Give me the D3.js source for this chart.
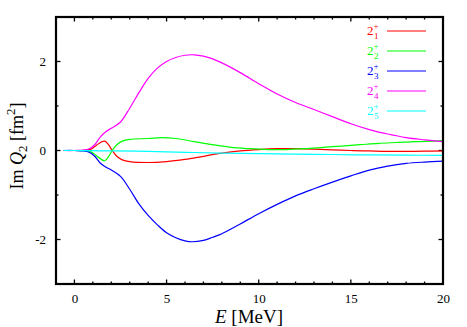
<!DOCTYPE html>
<html><head><meta charset="utf-8">
<script src="https://cdn.jsdelivr.net/npm/d3@7"></script>
<style>body{margin:0;background:#fff}svg{display:block}text{font-family:"Liberation Serif","Times New Roman",Times,serif !important}</style>
</head><body><svg id="c" width="467" height="327"></svg>
<script>
const xTicks = [0, 5, 10, 15, 20];
const yTicks = [-2, 0, 2];
const seriesNames = ["1", "2", "3", "4", "5"];
const seriesColors = ["#ff0000", "#00ff00", "#0000ff", "#ff00ff", "#00ffff"];
const red = [[-0.6,0],[0,0],[0.5,0.005],[0.9,0.03],[1.2,0.12],[1.5,0.2],[1.65,0.21],[1.85,0.13],[2.05,0],[2.3,-0.13],[2.6,-0.21],[3,-0.25],[4,-0.27],[5,-0.25],[6,-0.2],[7,-0.13],[8,-0.06],[9,-0.01],[10,0.02],[11,0.04],[12,0.04],[13,0.03],[14,0.015],[15,0],[16,-0.01],[17,-0.02],[18,-0.02],[19,-0.015],[20,-0.01]];
const green = [[-0.6,0],[0,0],[0.5,-0.005],[0.9,-0.03],[1.2,-0.12],[1.5,-0.21],[1.65,-0.23],[1.85,-0.14],[2.05,0],[2.3,0.13],[2.6,0.21],[3,0.25],[4,0.27],[4.7,0.29],[5.5,0.27],[6.5,0.2],[7.5,0.13],[8.5,0.07],[9.5,0.04],[10.5,0.02],[11.5,0.02],[12.5,0.04],[13.5,0.07],[14.5,0.1],[15.5,0.13],[16.5,0.16],[17.5,0.18],[18.5,0.2],[19.5,0.21],[20,0.22]];
const blue = [[-0.6,0],[0,0],[0.5,-0.01],[0.8,-0.04],[1.1,-0.13],[1.4,-0.28],[1.7,-0.37],[2,-0.44],[2.5,-0.58],[3,-0.87],[3.5,-1.2],[4,-1.46],[4.5,-1.67],[5,-1.85],[5.5,-1.96],[6,-2.03],[6.4,-2.05],[7,-2.02],[7.5,-1.95],[8,-1.87],[9,-1.65],[10,-1.42],[11,-1.21],[12,-1.02],[13,-0.86],[14,-0.71],[15,-0.57],[16,-0.44],[17,-0.35],[18,-0.29],[19,-0.26],[20,-0.24]];
const magenta = [[-0.6,0],[0,0],[0.5,0.01],[0.8,0.04],[1.1,0.13],[1.4,0.3],[1.7,0.42],[2,0.5],[2.5,0.64],[3,0.95],[3.5,1.3],[4,1.62],[4.5,1.85],[5,2.0],[5.5,2.09],[6,2.14],[6.5,2.15],[7,2.12],[7.5,2.06],[8,1.97],[9,1.75],[10,1.5],[11,1.27],[12,1.08],[13,0.92],[14,0.76],[15,0.6],[16,0.47],[17,0.37],[18,0.29],[19,0.24],[20,0.2]];
const cyan = [[-0.6,0],[0,0],[1,-0.005],[2,-0.01],[4,-0.02],[6,-0.04],[8,-0.06],[10,-0.07],[12,-0.08],[14,-0.09],[16,-0.1],[18,-0.105],[20,-0.11]];
const seriesData = [red, green, blue, magenta, cyan];

const FONT = '"Liberation Serif","Times New Roman",Times,serif';
const svg = d3.select("#c");
const L = 56, R = 443, T = 17, B = 284;
const x = d3.scaleLinear().domain([-1, 20]).range([L, R]);
const y = d3.scaleLinear().domain([-3, 3]).range([B, T]);

// minor + major ticks (inside, all four sides)
const g = svg.append("g");
const xMinor = d3.range(-1, 21, 1), yMinor = d3.range(-3, 4, 1);
function tick(x1,y1,x2,y2){g.append("line").attr("x1",x1).attr("y1",y1).attr("x2",x2).attr("y2",y2).attr("stroke","#000").attr("stroke-width",1.3);}
xMinor.forEach(v => { const len = xTicks.includes(v) ? 4.5 : 2.5; tick(x(v),B,x(v),B-len); tick(x(v),T,x(v),T+len); });
yMinor.forEach(v => { const len = yTicks.includes(v) ? 4.5 : 2.5; tick(L,y(v),L+len,y(v)); tick(R,y(v),R-len,y(v)); });

// tick labels via d3 axes (tick lines hidden)
const xa = svg.append("g").attr("transform",`translate(0,${B})`).call(d3.axisBottom(x).tickValues(xTicks).tickFormat(d=>String(d)).tickSize(0).tickPadding(10));
xa.select(".domain").remove();
xa.attr("font-family",FONT).attr("font-size",13);
xa.selectAll("text").attr("font-size",13);
const ya = svg.append("g").attr("transform",`translate(${L},0)`).call(d3.axisLeft(y).tickValues(yTicks).tickFormat(d=>String(d)).tickSize(0).tickPadding(10));
ya.select(".domain").remove();
ya.attr("font-family",FONT).attr("font-size",13);
ya.selectAll("text").attr("font-size",13);

// clip + curves
svg.append("clipPath").attr("id","cp").append("rect").attr("x",L).attr("y",T).attr("width",R-L).attr("height",B-T);
const line = d3.line().x(d=>x(d[0])).y(d=>y(d[1])).curve(d3.curveCatmullRom.alpha(0.5));
const pg = svg.append("g").attr("clip-path","url(#cp)");
seriesData.forEach((s,i)=>{
  pg.append("path").attr("d",line(s)).attr("fill","none").attr("stroke",seriesColors[i]).attr("stroke-width",1.2);
});

// frame
svg.append("rect").attr("x",L).attr("y",T).attr("width",R-L).attr("height",B-T).attr("fill","none").attr("stroke","#000").attr("stroke-width",2.2);

// legend
seriesNames.forEach((n,i)=>{
  const yy = 31 + i*20;
  const t = svg.append("text").attr("x",367).attr("y",yy+4).attr("fill",seriesColors[i]).attr("font-size",13).attr("font-family",FONT);
  t.append("tspan").text("2");
  t.append("tspan").attr("x",373.5).attr("font-size",9).attr("dy",-6).text("+");
  t.append("tspan").attr("x",374).attr("font-size",9).attr("dy",10).text(n);
  svg.append("line").attr("x1",387).attr("x2",426).attr("y1",yy).attr("y2",yy).attr("stroke",seriesColors[i]).attr("stroke-width",1.2);
});

// x label
const xl = svg.append("text").attr("x",249).attr("y",323).attr("text-anchor","middle").attr("font-size",19).attr("font-family",FONT);
xl.append("tspan").attr("font-style","italic").text("E");
xl.append("tspan").text(" [MeV]");

// y label
const yl = svg.append("text").attr("transform","translate(23,146) rotate(-90)").attr("text-anchor","middle").attr("font-size",18).attr("font-family",FONT);
yl.append("tspan").text("Im ");
yl.append("tspan").attr("font-style","italic").text("Q");
yl.append("tspan").attr("font-size",13).attr("dy",4).text("2");
yl.append("tspan").attr("dy",-4).text(" [fm");
yl.append("tspan").attr("font-size",13).attr("dy",-8).text("2");
yl.append("tspan").attr("dy",8).text("]");
</script></body></html>
